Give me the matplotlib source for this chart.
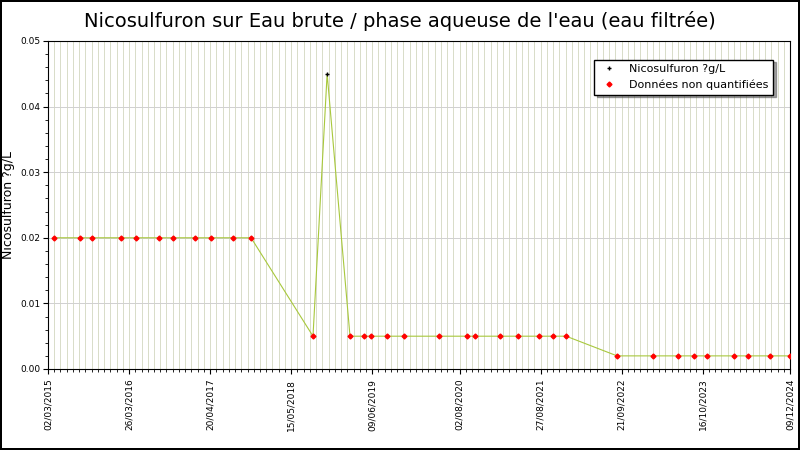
import matplotlib
matplotlib.use("Agg")
import matplotlib.pyplot as plt
import numpy as np
import datetime as dt

dates = ["2015-03-31","2015-08-03","2015-09-30","2016-02-16","2016-04-28","2016-08-17","2016-10-24",
         "2017-02-06","2017-04-24","2017-08-08","2017-11-03","2018-08-28","2018-11-04","2019-02-22",
         "2019-05-01","2019-06-03","2019-08-19","2019-11-09","2020-04-26","2020-09-07","2020-10-16",
         "2021-02-13","2021-05-11","2021-08-20","2021-10-26","2021-12-28","2022-08-30","2023-02-19",
         "2023-06-20","2023-09-05","2023-11-06","2024-03-15","2024-05-22","2024-09-05","2024-12-09"]
values = [0.02]*11 + [0.005, 0.045] + [0.005]*13 + [0.002]*9
quantified = [False]*12 + [True] + [False]*22
tick_labels = ["02/03/2015","26/03/2016","20/04/2017","15/05/2018","09/06/2019","02/08/2020",
               "27/08/2021","21/09/2022","16/10/2023","09/12/2024"]

x = [dt.datetime.strptime(d, "%Y-%m-%d") for d in dates]
ticks = [dt.datetime.strptime(t, "%d/%m/%Y") for t in tick_labels]

fig = plt.figure(figsize=(8, 4.5), dpi=100)
fig.patch.set_edgecolor("black"); fig.patch.set_linewidth(1.5)
ax = fig.add_axes([0.06, 0.18, 0.9275, 0.729])
ax.plot(x, values, color="#a8c83c", lw=0.8, zorder=2)
xq = [a for a, q in zip(x, quantified) if q]; yq = [v for v, q in zip(values, quantified) if q]
xn = [a for a, q in zip(x, quantified) if not q]; yn = [v for v, q in zip(values, quantified) if not q]
ax.plot(xq, yq, "+", color="black", ms=3, mew=1, label="Nicosulfuron ?g/L", zorder=3)
ax.plot(xn, yn, "D", color="red", ms=2.5, label="Données non quantifiées", zorder=3)

start, end = ticks[0], ticks[-1]
ax.set_xlim(start, end)
ax.set_ylim(0, 0.05)
ax.set_xticks(ticks)
ax.set_xticklabels(tick_labels, rotation=90, fontsize=6.5)
minor = []
d = start
while d <= end:
    minor.append(d); d += dt.timedelta(days=30)
ax.set_xticks(minor, minor=True)
ax.set_yticks(np.arange(0, 0.051, 0.01))
ax.set_yticklabels(["0.00","0.01","0.02","0.03","0.04","0.05"], fontsize=6.5)
ax.set_yticks(np.arange(0, 0.05, 0.002), minor=True)
ax.tick_params(axis="y", pad=2)
ax.grid(True, which="both", axis="x", color="#d8dcc8", lw=0.7)
ax.grid(True, which="major", axis="y", color="#d0d0d0", lw=0.7)
ax.set_axisbelow(True)
ax.set_ylabel("Nicosulfuron ?g/L", fontsize=9)
ax.yaxis.set_label_coords(-0.045, 0.5)
fig.suptitle("Nicosulfuron sur Eau brute / phase aqueuse de l'eau (eau filtrée)", fontsize=14, y=0.975)
leg = ax.legend(loc="upper right", bbox_to_anchor=(0.985, 0.96), fontsize=8, fancybox=False,
                shadow=True, edgecolor="black", framealpha=1)
fig.savefig("out.png", dpi=100, edgecolor=fig.get_edgecolor())
